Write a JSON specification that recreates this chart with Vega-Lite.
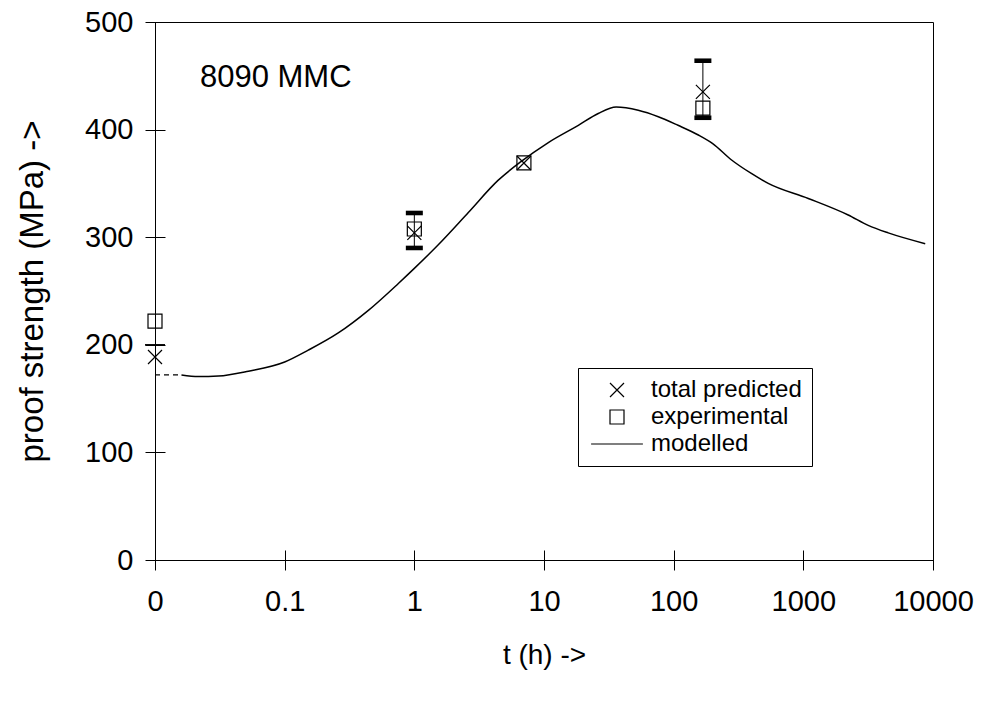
{
  "$schema": "https://vega.github.io/schema/vega-lite/v6.json",
  "width": 778,
  "height": 538,
  "autosize": "none",
  "padding": {"left": 155, "top": 22, "right": 55, "bottom": 145},
  "background": "white",
  "config": {
    "font": "Liberation Sans",
    "view": {"stroke": "black", "strokeWidth": 1},
    "axis": {
      "grid": false,
      "domain": false,
      "offset": -10,
      "tickSize": 20,
      "tickColor": "black",
      "tickWidth": 1,
      "labelColor": "black",
      "labelFontSize": 29,
      "labelFont": "Liberation Sans",
      "labelFlush": false,
      "labelOverlap": false,
      "titleColor": "black",
      "titleFont": "Liberation Sans",
      "titleFontWeight": "normal"
    },
    "axisX": {"labelPadding": 17, "titlePadding": 25, "titleFontSize": 28},
    "axisY": {"labelPadding": 12, "titlePadding": 35, "titleFontSize": 33}
  },
  "datasets": {
    "dash": [
      {"t": 0.01, "v": 172},
      {"t": 0.016, "v": 172}
    ],
    "curve": [
      {"t": 0.016, "v": 172},
      {"t": 0.0216, "v": 170.5},
      {"t": 0.0308, "v": 171},
      {"t": 0.0525, "v": 175.5},
      {"t": 0.1, "v": 184},
      {"t": 0.152, "v": 195},
      {"t": 0.259, "v": 211},
      {"t": 0.442, "v": 232},
      {"t": 0.753, "v": 257},
      {"t": 1.0, "v": 271},
      {"t": 1.53, "v": 293},
      {"t": 2.61, "v": 323},
      {"t": 4.44, "v": 353},
      {"t": 6.6, "v": 370},
      {"t": 10.8, "v": 388},
      {"t": 18.4, "v": 404},
      {"t": 26.2, "v": 415},
      {"t": 36, "v": 421},
      {"t": 53.3, "v": 418},
      {"t": 76.1, "v": 412},
      {"t": 108, "v": 404},
      {"t": 155, "v": 395},
      {"t": 200, "v": 387},
      {"t": 278, "v": 372},
      {"t": 400, "v": 359},
      {"t": 536, "v": 350},
      {"t": 1091, "v": 336},
      {"t": 2219, "v": 320.6},
      {"t": 3164, "v": 311},
      {"t": 4515, "v": 304},
      {"t": 8710, "v": 294}
    ],
    "bars": [
      {"t": 1, "lo": 290, "hi": 322.5},
      {"t": 168, "lo": 411, "hi": 464}
    ],
    "thincap": [
      {"t": 0.01, "v": 200}
    ],
    "points": [
      {"t": 0.01, "v": 188.7, "series": "total predicted"},
      {"t": 0.01, "v": 222, "series": "experimental"},
      {"t": 1, "v": 304, "series": "total predicted"},
      {"t": 1, "v": 307.6, "series": "experimental"},
      {"t": 7, "v": 369, "series": "total predicted"},
      {"t": 7, "v": 369, "series": "experimental"},
      {"t": 168, "v": 435, "series": "total predicted"},
      {"t": 168, "v": 420, "series": "experimental"}
    ],
    "note": [
      {"t": 0.0222, "v": 448, "text": "8090 MMC"}
    ]
  },
  "encoding": {
    "x": {
      "field": "t",
      "type": "quantitative",
      "title": "t (h) ->",
      "scale": {"type": "log", "domain": [0.01, 10000], "nice": false},
      "axis": {
        "values": [0.01, 0.1, 1, 10, 100, 1000, 10000],
        "format": "~g",
        "labelExpr": "datum.value < 0.05 ? '0' : datum.label"
      }
    }
  },
  "layer": [
    {
      "data": {"name": "dash"},
      "mark": {"type": "line", "color": "black", "strokeWidth": 1.2, "strokeDash": [5, 4]},
      "encoding": {
        "y": {"field": "v", "type": "quantitative", "title": "proof strength (MPa) ->",
              "scale": {"domain": [0, 500], "nice": false},
              "axis": {"values": [0, 100, 200, 300, 400, 500]}}
      }
    },
    {
      "data": {"name": "curve"},
      "mark": {"type": "line", "color": "black", "strokeWidth": 1.5, "interpolate": "monotone"},
      "encoding": {
        "y": {"field": "v", "type": "quantitative", "title": "proof strength (MPa) ->"}
      }
    },
    {
      "data": {"name": "bars"},
      "mark": {"type": "rule", "color": "black", "strokeWidth": 1},
      "encoding": {
        "y": {"field": "lo", "type": "quantitative", "title": "proof strength (MPa) ->"},
        "y2": {"field": "hi"}
      }
    },
    {
      "data": {"name": "bars"},
      "mark": {"type": "point", "shape": "M-1,-0.27L1,-0.27L1,0.27L-1,0.27Z", "filled": true, "color": "black", "size": 289, "opacity": 1},
      "encoding": {
        "y": {"field": "lo", "type": "quantitative", "title": "proof strength (MPa) ->"}
      }
    },
    {
      "data": {"name": "bars"},
      "mark": {"type": "point", "shape": "M-1,-0.27L1,-0.27L1,0.27L-1,0.27Z", "filled": true, "color": "black", "size": 289, "opacity": 1},
      "encoding": {
        "y": {"field": "hi", "type": "quantitative", "title": "proof strength (MPa) ->"}
      }
    },
    {
      "data": {"name": "thincap"},
      "mark": {"type": "point", "shape": "M-1,0L1,0", "filled": false, "stroke": "black", "strokeWidth": 1.5, "size": 400, "opacity": 1},
      "encoding": {
        "y": {"field": "v", "type": "quantitative", "title": "proof strength (MPa) ->"}
      }
    },
    {
      "data": {"name": "points"},
      "mark": {"type": "point", "filled": false, "stroke": "black", "strokeWidth": 1.2, "size": 196, "opacity": 1},
      "encoding": {
        "y": {"field": "v", "type": "quantitative", "title": "proof strength (MPa) ->"},
        "shape": {
          "field": "series",
          "type": "nominal",
          "scale": {
            "domain": ["total predicted", "experimental", "modelled"],
            "range": ["M-1,-1L1,1M-1,1L1,-1", "square", "M-3.7,0L3.7,0"]
          },
          "legend": {
            "orient": "none",
            "legendX": 423,
            "legendY": 346,
            "title": null,
            "strokeColor": "black",
            "padding": 10,
            "symbolSize": 196,
            "symbolOffset": 17,
            "labelOffset": 22,
            "labelFontSize": 24,
            "labelFont": "Liberation Sans",
            "labelColor": "black",
            "labelLimit": 400,
            "rowPadding": 3,
            "symbolStrokeWidth": 1.2,
            "symbolStrokeColor": "black",
            "symbolFillColor": "transparent"
          }
        }
      }
    },
    {
      "data": {"name": "note"},
      "mark": {"type": "text", "align": "left", "baseline": "middle", "fontSize": 31, "font": "Liberation Sans", "color": "black"},
      "encoding": {
        "y": {"field": "v", "type": "quantitative", "title": "proof strength (MPa) ->"},
        "text": {"field": "text"}
      }
    }
  ]
}
